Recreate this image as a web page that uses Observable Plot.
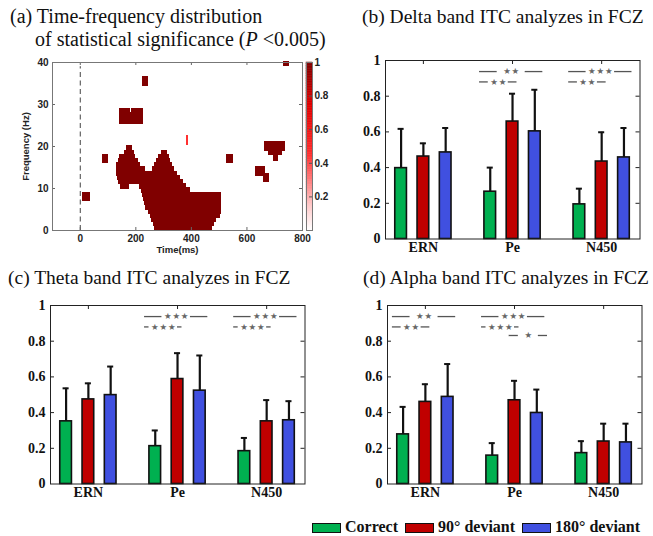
<!DOCTYPE html>
<html><head><meta charset="utf-8">
<script src="https://cdn.jsdelivr.net/npm/d3@7"></script>
<script src="https://cdn.jsdelivr.net/npm/@observablehq/plot@0.6"></script>
<style>
html,body{margin:0;padding:0;background:#fff;}
#root{position:relative;width:653px;height:536px;overflow:hidden;background:#fff;}
.title{position:absolute;font-family:"Liberation Serif","Times New Roman",Times,serif;font-size:19.5px;line-height:1;white-space:nowrap;color:#111;}
.leg{position:absolute;font-family:"Liberation Serif","Times New Roman",Times,serif;font-size:16px;font-weight:bold;line-height:1;white-space:nowrap;color:#111;}
.sw{position:absolute;box-sizing:border-box;border:1.6px solid #111;}
</style></head><body><div id="root"></div>
<script>
// ---------- DATA ----------
// Panel (a): significant time-frequency cells [fLow Hz, fHigh Hz, tStart ms, tEnd ms, value]
const sigCells = [
  [19,20,170,187,1],
  [18,19,160,192,1],[18,19,293,312,1],
  [17,18,145,197,1],[17,18,285,318,1],
  [16,17,138,206,1],[16,17,278,323,1],
  [15,16,133,215,1],[15,16,270,329,1],
  [14,15,133,232,1],[14,15,262,336,1],
  [13,14,133,348,1],
  [12,13,135,358,1],
  [11,12,139,368,1],
  [10,11,148,176,1],[10,11,215,380,1],
  [9,10,222,395,1],
  [8,9,226,505,1],
  [7,8,230,505,1],
  [6,7,234,505,1],
  [5,6,238,505,1],
  [4,5,246,505,1],
  [3,4,254,503,1],
  [2,3,260,490,1],
  [1,2,266,482,1],
  [0,1,270,475,1],
  [7,9,10,35,1],
  [16,18,82,100,1],
  [34.5,36.5,225,245,1],
  [25.5,28,145,225,1],[28,29,145,180,1],[28,29,188,225,1],
  [20.5,22.5,384,389,0.45],
  [16,18,530,548,1],
  [13,15,633,665,1],[11.5,13.5,660,680,1],
  [19,21,667,738,1],[18,19,679,726,1],[16.5,18,696,712,1],
  [39.3,40,732,750,1]
];
const timeTicks = [0, 200, 400, 600, 800];
const freqTicks = [0, 10, 20, 30, 40];
const cbTicks = [0.2, 0.4, 0.6, 0.8, 1];

// Panels (b)-(d): ITC means and error (SD) per component x condition
const groups = ["ERN", "Pe", "N450"];
const conditions = ["Correct", "90° deviant", "180° deviant"];
const deltaMean = [[0.397, 0.462, 0.485], [0.265, 0.658, 0.603], [0.194, 0.434, 0.457]];
const deltaSD   = [[0.220, 0.074, 0.137], [0.135, 0.156, 0.233], [0.088, 0.164, 0.165]];
const thetaMean = [[0.351, 0.474, 0.498], [0.212, 0.588, 0.523], [0.184, 0.351, 0.357]];
const thetaSD   = [[0.185, 0.090, 0.160], [0.088, 0.145, 0.197], [0.074, 0.119, 0.107]];
const alphaMean = [[0.278, 0.460, 0.488], [0.159, 0.469, 0.398], [0.173, 0.238, 0.233]];
const alphaSD   = [[0.154, 0.099, 0.184], [0.070, 0.109, 0.131], [0.067, 0.100, 0.105]];
// significance comparisons: [group index, condition a, condition b, number of stars]
const deltaSig = [[1,0,2,2],[1,0,1,2],[2,0,2,3],[2,0,1,2]];
const thetaSig = [[1,0,2,3],[1,0,1,3],[2,0,2,3],[2,0,1,3]];
const alphaSig = [[0,0,2,2],[0,0,1,2],[1,0,2,3],[1,0,1,3],[1,1,2,1]];
const yTicks = [0, 0.2, 0.4, 0.6, 0.8, 1];

// ---------- STYLE ----------
const sans = '"Liberation Sans", Arial, Helvetica, sans-serif';
const serif = '"Liberation Serif", "Times New Roman", Times, serif';
const condColors = ["#00b050", "#c00000", "#4050e0"];
const tfColor = {type: "linear", domain: [0, 0.15, 0.45, 0.75, 1],
  range: ["#ffffff", "#ffc8c8", "#ff3030", "#e00000", "#800000"]};
const root = document.getElementById("root");
function place(node, left, top) {
  node.style.position = "absolute";
  node.style.left = left + "px";
  node.style.top = top + "px";
  root.appendChild(node);
}

// ---------- PANEL (a) ----------
const aW = 250, aH = 168;
const aPlot = Plot.plot({
  width: 52 + aW + 2, height: 12 + aH + 30,
  marginLeft: 52, marginRight: 2, marginTop: 12, marginBottom: 30,
  x: {domain: [-100, 800], axis: null},
  y: {domain: [0, 40], axis: null},
  color: tfColor,
  style: {fontFamily: sans, fontSize: "10px", fontWeight: "bold", color: "#222", background: "transparent", overflow: "visible"},
  marks: [
    Plot.rect(sigCells, {y1: d => d[0], y2: d => d[1], x1: d => d[2], x2: d => d[3], fill: d => d[4], stroke: d => d[4], strokeWidth: 1.2, shapeRendering: "crispEdges"}),
    Plot.ruleX([0], {y1: 0, y2: 39, stroke: "#444", strokeWidth: 1, strokeDasharray: "5,3.5"}),
    Plot.ruleX(timeTicks, {insetTop: aH - 3, stroke: "#666"}),
    Plot.ruleX(timeTicks, {insetBottom: aH - 3, stroke: "#666"}),
    Plot.ruleY(freqTicks, {insetRight: aW - 3, stroke: "#666"}),
    Plot.ruleY(freqTicks, {insetLeft: aW - 3, stroke: "#666"}),
    Plot.frame({stroke: "#777"}),
    Plot.axisX(timeTicks, {tickSize: 0, tickPadding: 4, label: null}),
    Plot.axisY(freqTicks, {tickSize: 0, tickPadding: 4, label: null}),
    Plot.text(["Time(ms)"], {text: d => d, frameAnchor: "bottom", lineAnchor: "middle", textAnchor: "middle", dy: 19.5, fontSize: 9.5}),
    Plot.text(["Frequency (Hz)"], {text: d => d, frameAnchor: "left", lineAnchor: "middle", textAnchor: "middle", dx: -27, rotate: -90, fontSize: 9.5})
  ]
});
place(aPlot, 0, 50);

// colorbar
const cbPlot = Plot.plot({
  width: 6 + 6 + 30, height: 12 + aH + 24,
  marginLeft: 6, marginRight: 30, marginTop: 12, marginBottom: 24,
  x: {domain: [0, 1], axis: null},
  y: {domain: [0, 1], axis: null},
  color: tfColor,
  style: {fontFamily: sans, fontSize: "10px", fontWeight: "bold", color: "#222", background: "transparent", overflow: "visible"},
  marks: [
    Plot.rect(d3.range(100), {x1: 0, x2: 1, y1: i => i / 100, y2: i => (i + 1) / 100, fill: i => (i + 0.5) / 100, stroke: i => (i + 0.5) / 100, strokeWidth: 0.5}),
    Plot.ruleY(cbTicks, {insetLeft: 3, stroke: "#555"}),
    Plot.frame({stroke: "#777"}),
    Plot.axisY(cbTicks, {anchor: "right", tickSize: 0, tickPadding: 2, label: null, tickFormat: d => String(+d.toFixed(1))})
  ]
});
place(cbPlot, 300, 50);

// ---------- BAR PANELS ----------
const off = [-0.25, 0, 0.25], bw = 0.131, capHalf = 0.034;
const xDomain = [0.575, 3.43];
const bFW = 254.5, bFH = 178.5;
const pairSpan = {"0-2": [-0.37, 0.34], "0-1": [-0.37, 0.05], "1-2": [-0.06, 0.37]};
const pairGap = {"0-2": 28, "0-1": 0, "1-2": 20};
const pairRow = {"0-2": 0.938, "0-1": 0.88, "1-2": 0.832};
const starGlyph = "\u2605";

function barPanel(mean, sd, comps, frameLeft, frameTop) {
  const mL = 45, mR = 6, mT = 14, mB = 24;
  const rows = [];
  groups.forEach((g, gi) => conditions.forEach((c, ci) =>
    rows.push({x: gi + 1 + off[ci], cond: c, m: mean[gi][ci], e: sd[gi][ci]})));
  const pxPerUnit = bFW / (xDomain[1] - xDomain[0]);
  const segs = [], labels = [];
  comps.forEach(([gi, a, b, n]) => {
    const key = a + "-" + b;
    const [s0, s1] = pairSpan[key];
    const x1 = gi + 1 + s0, x2 = gi + 1 + s1, mid = (x1 + x2) / 2;
    const gap = Math.max(pairGap[key], n * 8.5 + 3) / 2 / pxPerUnit;
    const y = pairRow[key];
    segs.push({x1, x2: mid - gap, y}, {x1: mid + gap, x2, y});
    labels.push({x: mid, y, stars: Array(n).fill(starGlyph).join("\u200a")});
  });
  const inner = yTicks.filter(v => v > 0 && v < 1);
  const p = Plot.plot({
    width: bFW + mL + mR, height: bFH + mT + mB,
    marginLeft: mL, marginRight: mR, marginTop: mT, marginBottom: mB,
    x: {domain: xDomain, axis: null},
    y: {domain: [0, 1], axis: null},
    color: {domain: conditions, range: condColors},
    style: {fontFamily: serif, fontSize: "14px", fontWeight: "bold", color: "#111", background: "transparent", overflow: "visible"},
    marks: [
      Plot.ruleY(inner, {insetRight: bFW - 4, stroke: "#222"}),
      Plot.ruleY(inner, {insetLeft: bFW - 4, stroke: "#222"}),
      Plot.ruleX([1, 2, 3], {insetTop: bFH - 4, stroke: "#222"}),
      Plot.ruleX([1, 2, 3], {insetBottom: bFH - 4, stroke: "#222"}),
      Plot.rect(rows, {x1: d => d.x - bw / 2, x2: d => d.x + bw / 2, y1: 0, y2: "m", fill: "cond", stroke: "#111", strokeWidth: 1.6}),
      Plot.ruleX(rows, {x: "x", y1: "m", y2: d => d.m + d.e, stroke: "#111", strokeWidth: 2.2}),
      Plot.ruleY(rows, {y: d => d.m + d.e, x1: d => d.x - capHalf, x2: d => d.x + capHalf, stroke: "#111", strokeWidth: 2}),
      Plot.ruleY(segs, {y: "y", x1: "x1", x2: "x2", stroke: "#555", strokeWidth: 1.3}),
      Plot.text(labels, {x: "x", y: "y", text: "stars", fontFamily: '"DejaVu Sans", sans-serif', fontSize: 8.5, fontWeight: "normal", fill: "#666", dy: 0}),
      Plot.frame({stroke: "#222"}),
      Plot.axisY(yTicks, {tickSize: 0, tickPadding: 5, label: null, tickFormat: d => String(+d.toFixed(1))}),
      Plot.axisX([1, 2, 3], {tickSize: 0, tickPadding: 3, label: null, tickFormat: i => groups[i - 1]})
    ]
  });
  place(p, frameLeft - mL, frameTop - mT);
}
barPanel(deltaMean, deltaSD, deltaSig, 385, 59.5);
barPanel(thetaMean, thetaSD, thetaSig, 50, 305);
barPanel(alphaMean, alphaSD, alphaSig, 387.3, 305);

// ---------- TITLES ----------
function title(html, left, top, size) {
  const d = document.createElement("div");
  d.className = "title";
  d.innerHTML = html;
  d.style.left = left + "px";
  d.style.top = top + "px";
  if (size) d.style.fontSize = size + "px";
  root.appendChild(d);
}
title("(a) Time-frequency distribution", 10, 6.3, 20);
title("of statistical significance (<i>P</i> &lt;0.005)", 35, 29.3, 20);
title("(b) Delta band ITC analyzes in FCZ", 362, 6.7);
title("(c) Theta band ITC analyzes in FCZ", 8, 267.7);
title("(d) Alpha band ITC analyzes in FCZ", 363, 267.7);

// ---------- LEGEND ----------
const legLeft = [312, 405, 522];
conditions.forEach((c, i) => {
  const s = document.createElement("div");
  s.className = "sw";
  s.style.left = legLeft[i] + "px"; s.style.top = "523px";
  s.style.width = "29px"; s.style.height = "10px";
  s.style.background = condColors[i];
  root.appendChild(s);
  const t = document.createElement("div");
  t.className = "leg";
  t.textContent = c;
  t.style.left = (legLeft[i] + 33) + "px"; t.style.top = "519.3px";
  root.appendChild(t);
});
</script></body></html>
